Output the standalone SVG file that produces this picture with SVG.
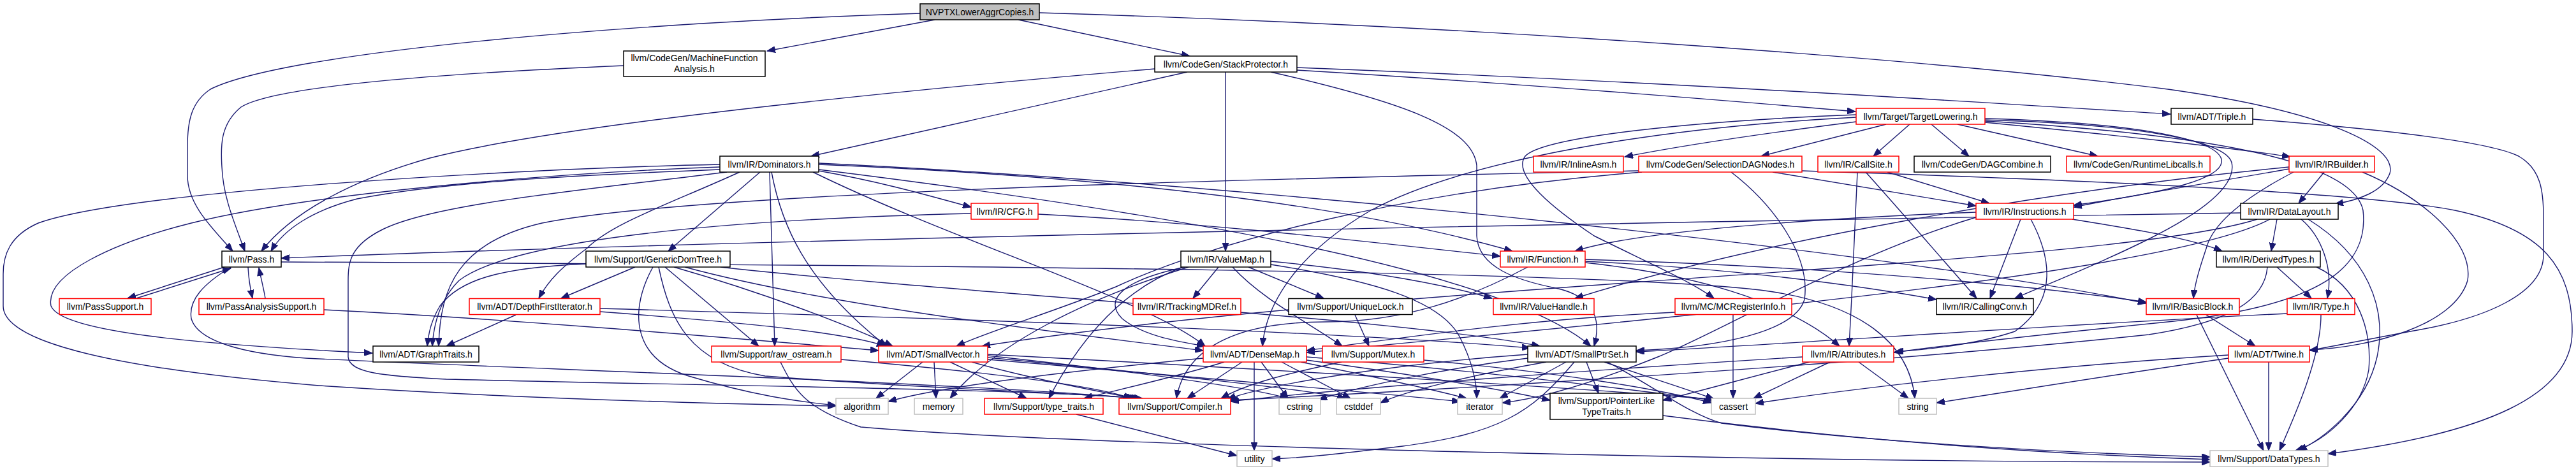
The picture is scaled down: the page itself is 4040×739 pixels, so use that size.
<svg xmlns="http://www.w3.org/2000/svg" width="4040" height="739" viewBox="0 0 4040 739">
<defs>
<marker id="ah" markerUnits="userSpaceOnUse" markerWidth="14" markerHeight="10" refX="13" refY="5" orient="auto">
<path d="M0,0 L13,5 L0,10 z" fill="#191970" stroke="#191970" stroke-width="1"/>
</marker>
<style>
.node rect{fill:#ffffff;stroke:#000000;stroke-width:1.5}
.node.red rect{stroke:#ff0000}
.node.grey rect{stroke:#bfbfbf}
.node.root rect{fill:#bfbfbf;stroke:#000000}
.node text{font-family:"Liberation Sans",Arial,sans-serif;font-size:14px;fill:#000000;text-anchor:middle}
.edges path{fill:none;stroke:#191970;stroke-width:1.4;marker-end:url(#ah)}
</style>
</defs>
<rect x="0" y="0" width="4040" height="739" fill="#ffffff"/>
<g class="edges">
<path d="M1466,31 L1203,80"/>
<path d="M1597,31 L1866,88"/>
<path d="M1443,21 C1000,35 450,80 330,140 C300,160 294,190 294,230 L294,275 C294,320 330,355 365,394"/>
<path d="M1630,20 C2300,40 3000,90 3400,140 C3650,175 3760,230 3748,272 C3738,300 3700,314 3662,320"/>
<path d="M978,103 C700,115 430,135 378,168 C345,195 346,230 348,262 C350,310 368,350 384,394"/>
<path d="M1811,108 C1500,134 900,190 674,248 C560,280 460,330 410,394"/>
<path d="M1862,113 L1272,245"/>
<path d="M1922,113 L1922,394"/>
<path d="M2034,106 C2600,128 3100,160 3404,179"/>
<path d="M2034,110 C2400,132 2700,157 2910,175"/>
<path d="M1993,113 C2200,160 2310,200 2316,260 L2316,370 C2318,420 2380,440 2440,452 C2500,465 2512,500 2500,543"/>
<path d="M3533,187 C3700,200 3900,220 3950,245 C3985,265 3989,300 3989,340 L3989,400 C3989,460 3900,500 3780,520 C3700,535 3650,545 3622,550"/>
<path d="M2958,195 L2762,245"/>
<path d="M2995,195 L2938,245"/>
<path d="M3029,195 L3088,245"/>
<path d="M3070,195 L3290,245"/>
<path d="M2911,191 C2800,205 2650,226 2548,246"/>
<path d="M3113,192 C3300,210 3500,232 3592,246"/>
<path d="M2911,184 C2600,200 2300,250 2150,330 C2030,400 1985,480 1980,543"/>
<path d="M2911,180 C2650,190 2420,215 2392,245 C2370,275 2440,330 2500,370 C2580,410 2650,440 2688,468"/>
<path d="M3113,188 C3350,195 3490,220 3500,255 C3510,300 3420,350 3370,375 C3280,420 3200,450 3160,468"/>
<path d="M3113,186 C3330,192 3475,215 3484,250 C3490,280 3400,302 3252,322"/>
<path d="M3113,190 C3450,210 3690,250 3706,330 C3716,420 3640,480 3400,505 C3200,525 3050,542 2970,553"/>
<path d="M1129,266 C900,275 700,285 560,312 C490,330 445,360 425,394"/>
<path d="M1129,262 C900,270 500,300 300,350 C180,380 70,430 80,480 C95,520 300,540 584,554"/>
<path d="M1129,258 C800,265 200,300 60,350 C15,370 5,400 5,430 L5,480 C5,540 200,580 500,605 C800,625 1100,633 1311,637"/>
<path d="M1140,270 C900,300 680,320 600,360 C550,385 546,410 546,440 L546,560 C548,585 600,590 700,595 C1100,605 1600,610 1788,625"/>
<path d="M1160,270 C1050,320 960,350 920,390 C880,420 860,440 845,468"/>
<path d="M1192,270 L1048,394"/>
<path d="M1207,270 L1215,543"/>
<path d="M1210,270 C1225,350 1260,440 1390,543"/>
<path d="M1284,268 C1380,285 1450,305 1523,325"/>
<path d="M1284,258 C1800,280 2150,330 2372,394"/>
<path d="M1284,256 C2000,290 3000,400 3366,476"/>
<path d="M1284,266 C1800,330 2350,420 2495,543"/>
<path d="M1275,270 C1500,380 1800,470 1890,543"/>
<path d="M996,419 L880,468"/>
<path d="M919,414 C780,420 720,440 690,480 C675,505 672,525 670,543"/>
<path d="M1024,419 C990,480 985,560 1080,590 C1180,620 1250,630 1311,636"/>
<path d="M1033,419 C1050,500 1080,570 1200,590 C1450,610 1650,615 1792,625"/>
<path d="M1043,419 L1190,543"/>
<path d="M1057,419 C1200,460 1330,510 1400,543"/>
<path d="M1074,419 C1300,480 1650,520 1887,550"/>
<path d="M1130,419 C1500,460 2200,500 2415,543"/>
<path d="M1523,335 C1100,345 800,380 720,440 C690,470 680,510 678,543"/>
<path d="M1628,336 C1900,350 2150,380 2353,402"/>
<path d="M1858,419 C1760,440 1730,470 1760,500 C1790,525 1840,535 1890,543"/>
<path d="M1911,419 L1871,468"/>
<path d="M1855,419 C1770,450 1700,520 1645,625"/>
<path d="M1864,419 C1700,470 1560,540 1490,625"/>
<path d="M1958,419 L2076,468"/>
<path d="M1933,419 C1980,470 2050,505 2105,543"/>
<path d="M1993,410 C2150,425 2260,445 2340,468"/>
<path d="M1993,415 C2150,440 2260,470 2290,530 C2310,570 2316,600 2316,625"/>
<path d="M2396,419 C2300,470 2200,505 2080,505 C1950,505 1860,540 1845,625"/>
<path d="M2486,412 C2650,430 2800,470 2885,543"/>
<path d="M2486,410 C2700,420 2900,445 3037,470"/>
<path d="M2486,407 C2900,420 3200,450 3366,474"/>
<path d="M3645,270 L3605,319"/>
<path d="M3705,270 C3800,310 3880,380 3870,440 C3850,510 3720,545 3622,549"/>
<path d="M3597,270 C3520,310 3470,350 3460,390 C3450,420 3442,445 3440,468"/>
<path d="M3590,265 C3450,290 3350,305 3252,325"/>
<path d="M3590,262 C3200,300 2750,380 2470,468"/>
<path d="M3169,344 L3121,468"/>
<path d="M3185,344 C3215,400 3230,470 3160,520 C3100,540 3030,548 2972,552"/>
<path d="M3250,344 C3350,360 3440,375 3485,394"/>
<path d="M3099,333 C2800,345 2560,365 2470,394"/>
<path d="M3099,341 C2900,400 2700,520 2600,560 C2500,600 2420,625 2356,632"/>
<path d="M3514,334 C2500,350 1200,375 441,405"/>
<path d="M3571,344 L3562,394"/>
<path d="M3609,344 C3640,370 3660,420 3650,468"/>
<path d="M3620,344 C3710,400 3745,480 3728,560 C3710,640 3640,690 3605,707"/>
<path d="M3560,344 C3400,430 2600,500 2049,553"/>
<path d="M3540,344 C3300,420 2200,440 1540,543"/>
<path d="M352,419 L200,468"/>
<path d="M214,468 L362,421"/>
<path d="M389,419 C390,440 393,455 396,468"/>
<path d="M416,468 C414,455 410,440 406,420"/>
<path d="M362,419 C320,445 295,470 300,500 C310,535 380,555 480,562 C800,578 1500,600 1785,625"/>
<path d="M441,411 C1500,416 2500,425 2760,455 C2920,475 2995,540 3003,625"/>
<path d="M508,486 C800,500 1200,535 1378,550"/>
<path d="M3571,419 L3625,468"/>
<path d="M3633,419 C3700,450 3720,520 3715,580 C3705,640 3650,690 3600,707"/>
<path d="M3556,419 C3552,470 3500,505 3370,525 C2900,575 2200,615 1928,628"/>
<path d="M3640,494 C3640,560 3600,650 3575,707"/>
<path d="M3587,492 C3300,505 2800,540 2566,552"/>
<path d="M3460,494 L3537,543"/>
<path d="M3445,494 L3550,707"/>
<path d="M3558,568 L3558,707"/>
<path d="M3495,557 C3200,575 2900,610 2753,633"/>
<path d="M3495,562 C3300,590 3150,615 3037,632"/>
<path d="M2870,568 L2750,625"/>
<path d="M2915,568 L2993,625"/>
<path d="M2827,560 C2500,580 2100,610 1930,630"/>
<path d="M2838,568 C2750,590 2680,610 2608,628"/>
<path d="M2718,494 L2718,625"/>
<path d="M2627,490 C2400,500 2200,530 2049,550"/>
<path d="M2125,494 L2147,543"/>
<path d="M2104,568 C2000,590 1950,605 1915,625"/>
<path d="M2233,565 C2450,585 2600,610 2684,632"/>
<path d="M2488,568 L2507,617"/>
<path d="M2456,568 L2352,625"/>
<path d="M2425,568 C2300,590 2200,615 2165,632"/>
<path d="M2396,562 C2250,580 2120,610 2068,627"/>
<path d="M2396,556 C2200,570 2000,600 1925,626"/>
<path d="M2516,568 C2580,590 2650,612 2688,626"/>
<path d="M2521,568 C2600,610 2650,650 2700,664 C2900,690 3200,710 3466,717"/>
<path d="M2469,568 C2400,650 2350,680 2200,700 C2100,712 2050,718 1995,720"/>
<path d="M2608,652 C2900,690 3200,712 3466,721"/>
<path d="M1688,650 L1940,715"/>
<path d="M1224,568 C1245,610 1260,640 1350,670 C1700,700 2800,725 3466,725"/>
<path d="M1319,564 C1500,580 1700,600 1775,625"/>
<path d="M1447,568 L1374,625"/>
<path d="M1465,568 L1468,625"/>
<path d="M1490,568 L1610,625"/>
<path d="M1524,568 C1600,590 1700,610 1780,625"/>
<path d="M1549,558 C1750,580 1950,605 2020,625"/>
<path d="M1549,561 C1800,585 2050,610 2110,625"/>
<path d="M1549,564 C1850,590 2150,615 2290,630"/>
<path d="M1549,556 C2000,580 2500,610 2690,627"/>
<path d="M1967,568 L1967,707"/>
<path d="M1948,568 L1862,625"/>
<path d="M1978,568 L2020,625"/>
<path d="M1887,562 C1700,580 1480,605 1393,630"/>
<path d="M1920,568 C1850,590 1760,610 1700,625"/>
<path d="M2010,568 L2118,625"/>
<path d="M2040,568 C2150,590 2250,612 2300,625"/>
<path d="M2049,560 C2300,580 2550,610 2688,628"/>
<path d="M2049,565 C2200,585 2350,610 2431,628"/>
<path d="M2780,270 L3099,323"/>
<path d="M2826,268 C3200,280 3700,300 3850,330 C3990,360 4034,420 4034,520 C4034,620 3900,680 3651,712"/>
<path d="M2570,268 C2000,280 1100,300 850,350 C720,380 690,450 688,543"/>
<path d="M2715,270 C2780,320 2840,400 2830,470 C2815,520 2700,545 2566,550"/>
<path d="M2575,270 C2200,300 1900,380 1750,450 C1650,490 1550,520 1500,543"/>
<path d="M2913,270 C2910,350 2905,450 2900,543"/>
<path d="M2926,270 C2980,330 3040,400 3100,468"/>
<path d="M2960,270 L3120,319"/>
<path d="M809,494 L700,543"/>
<path d="M941,484 C1500,500 2100,520 2400,546"/>
<path d="M941,489 C1150,505 1320,520 1388,543"/>
</g>
<g id="n_nvptx" class="node root"><rect x="1443" y="6" width="187" height="25"/><text x="1536.5" y="23.5">NVPTXLowerAggrCopies.h</text></g>
<g id="n_mfa" class="node"><rect x="978" y="80" width="222" height="40"/><text x="1089" y="96">llvm/CodeGen/MachineFunction</text><text x="1089" y="113">Analysis.h</text></g>
<g id="n_sp" class="node"><rect x="1811" y="88" width="223" height="25"/><text x="1922.5" y="105.5">llvm/CodeGen/StackProtector.h</text></g>
<g id="n_tl" class="node red"><rect x="2911" y="170" width="202" height="25"/><text x="3012" y="187.5">llvm/Target/TargetLowering.h</text></g>
<g id="n_triple" class="node"><rect x="3405" y="170" width="128" height="25"/><text x="3469" y="187.5">llvm/ADT/Triple.h</text></g>
<g id="n_dom" class="node"><rect x="1129" y="245" width="155" height="25"/><text x="1206.5" y="262.5">llvm/IR/Dominators.h</text></g>
<g id="n_inlineasm" class="node red"><rect x="2405" y="245" width="141" height="25"/><text x="2475.5" y="262.5">llvm/IR/InlineAsm.h</text></g>
<g id="n_sdn" class="node red"><rect x="2570" y="245" width="256" height="25"/><text x="2698" y="262.5">llvm/CodeGen/SelectionDAGNodes.h</text></g>
<g id="n_callsite" class="node red"><rect x="2851" y="245" width="127" height="25"/><text x="2914.5" y="262.5">llvm/IR/CallSite.h</text></g>
<g id="n_dagc" class="node"><rect x="3002" y="245" width="214" height="25"/><text x="3109" y="262.5">llvm/CodeGen/DAGCombine.h</text></g>
<g id="n_rtl" class="node red"><rect x="3241" y="245" width="225" height="25"/><text x="3353.5" y="262.5">llvm/CodeGen/RuntimeLibcalls.h</text></g>
<g id="n_irb" class="node red"><rect x="3590" y="245" width="134" height="25"/><text x="3657" y="262.5">llvm/IR/IRBuilder.h</text></g>
<g id="n_cfg" class="node red"><rect x="1523" y="319" width="105" height="25"/><text x="1575.5" y="336.5">llvm/IR/CFG.h</text></g>
<g id="n_instr" class="node red"><rect x="3099" y="319" width="153" height="25"/><text x="3175.5" y="336.5">llvm/IR/Instructions.h</text></g>
<g id="n_dl" class="node"><rect x="3514" y="319" width="153" height="25"/><text x="3590.5" y="336.5">llvm/IR/DataLayout.h</text></g>
<g id="n_pass" class="node"><rect x="348" y="394" width="93" height="25"/><text x="394.5" y="411.5">llvm/Pass.h</text></g>
<g id="n_gdt" class="node"><rect x="919" y="394" width="226" height="25"/><text x="1032" y="411.5">llvm/Support/GenericDomTree.h</text></g>
<g id="n_vm" class="node"><rect x="1852" y="394" width="141" height="25"/><text x="1922.5" y="411.5">llvm/IR/ValueMap.h</text></g>
<g id="n_func" class="node red"><rect x="2353" y="394" width="133" height="25"/><text x="2419.5" y="411.5">llvm/IR/Function.h</text></g>
<g id="n_dt" class="node"><rect x="3476" y="394" width="163" height="25"/><text x="3557.5" y="411.5">llvm/IR/DerivedTypes.h</text></g>
<g id="n_ps" class="node red"><rect x="93" y="468.5" width="144" height="25"/><text x="165" y="486">llvm/PassSupport.h</text></g>
<g id="n_pas" class="node red"><rect x="312" y="468.5" width="196" height="25"/><text x="410" y="486">llvm/PassAnalysisSupport.h</text></g>
<g id="n_dfi" class="node red"><rect x="736" y="468.5" width="205" height="25"/><text x="838.5" y="486">llvm/ADT/DepthFirstIterator.h</text></g>
<g id="n_tmd" class="node red"><rect x="1777" y="468.5" width="169" height="25"/><text x="1861.5" y="486">llvm/IR/TrackingMDRef.h</text></g>
<g id="n_ul" class="node"><rect x="2021" y="468.5" width="194" height="25"/><text x="2118" y="486">llvm/Support/UniqueLock.h</text></g>
<g id="n_vh" class="node red"><rect x="2342" y="468.5" width="158" height="25"/><text x="2421" y="486">llvm/IR/ValueHandle.h</text></g>
<g id="n_mcr" class="node red"><rect x="2627" y="468.5" width="183" height="25"/><text x="2718.5" y="486">llvm/MC/MCRegisterInfo.h</text></g>
<g id="n_cc" class="node"><rect x="3037" y="468.5" width="152" height="25"/><text x="3113" y="486">llvm/IR/CallingConv.h</text></g>
<g id="n_bb" class="node red"><rect x="3366" y="468.5" width="146" height="25"/><text x="3439" y="486">llvm/IR/BasicBlock.h</text></g>
<g id="n_type" class="node red"><rect x="3587" y="468.5" width="106" height="25"/><text x="3640" y="486">llvm/IR/Type.h</text></g>
<g id="n_gt" class="node"><rect x="585" y="543" width="166" height="25"/><text x="668" y="560.5">llvm/ADT/GraphTraits.h</text></g>
<g id="n_ro" class="node red"><rect x="1116" y="543" width="203" height="25"/><text x="1217.5" y="560.5">llvm/Support/raw_ostream.h</text></g>
<g id="n_sv" class="node red"><rect x="1378" y="543" width="171" height="25"/><text x="1463.5" y="560.5">llvm/ADT/SmallVector.h</text></g>
<g id="n_dm" class="node red"><rect x="1887" y="543" width="162" height="25"/><text x="1968" y="560.5">llvm/ADT/DenseMap.h</text></g>
<g id="n_mutex" class="node red"><rect x="2074" y="543" width="159" height="25"/><text x="2153.5" y="560.5">llvm/Support/Mutex.h</text></g>
<g id="n_sps" class="node"><rect x="2396" y="543" width="170" height="25"/><text x="2481" y="560.5">llvm/ADT/SmallPtrSet.h</text></g>
<g id="n_attr" class="node red"><rect x="2827" y="543" width="143" height="25"/><text x="2898.5" y="560.5">llvm/IR/Attributes.h</text></g>
<g id="n_twine" class="node red"><rect x="3495" y="543" width="127" height="25"/><text x="3558.5" y="560.5">llvm/ADT/Twine.h</text></g>
<g id="n_algorithm" class="node grey"><rect x="1311" y="625" width="82" height="25"/><text x="1352" y="642.5">algorithm</text></g>
<g id="n_memory" class="node grey"><rect x="1434" y="625" width="76" height="25"/><text x="1472" y="642.5">memory</text></g>
<g id="n_tt" class="node red"><rect x="1544" y="625" width="186" height="25"/><text x="1637" y="642.5">llvm/Support/type_traits.h</text></g>
<g id="n_compiler" class="node red"><rect x="1755" y="625" width="175" height="25"/><text x="1842.5" y="642.5">llvm/Support/Compiler.h</text></g>
<g id="n_cstring" class="node grey"><rect x="2006" y="625" width="65" height="25"/><text x="2038.5" y="642.5">cstring</text></g>
<g id="n_cstddef" class="node grey"><rect x="2096" y="625" width="69" height="25"/><text x="2130.5" y="642.5">cstddef</text></g>
<g id="n_iterator" class="node grey"><rect x="2286" y="625" width="70" height="25"/><text x="2321" y="642.5">iterator</text></g>
<g id="n_pltt" class="node"><rect x="2431" y="617" width="177" height="41"/><text x="2519.5" y="633.5">llvm/Support/PointerLike</text><text x="2519.5" y="650.5">TypeTraits.h</text></g>
<g id="n_cassert" class="node grey"><rect x="2684" y="625" width="69" height="25"/><text x="2718.5" y="642.5">cassert</text></g>
<g id="n_string" class="node grey"><rect x="2978" y="625" width="59" height="25"/><text x="3007.5" y="642.5">string</text></g>
<g id="n_utility" class="node grey"><rect x="1940" y="707" width="55" height="25"/><text x="1967.5" y="724.5">utility</text></g>
<g id="n_datatypes" class="node grey"><rect x="3466" y="707" width="185" height="25"/><text x="3558.5" y="724.5">llvm/Support/DataTypes.h</text></g>
</svg>
